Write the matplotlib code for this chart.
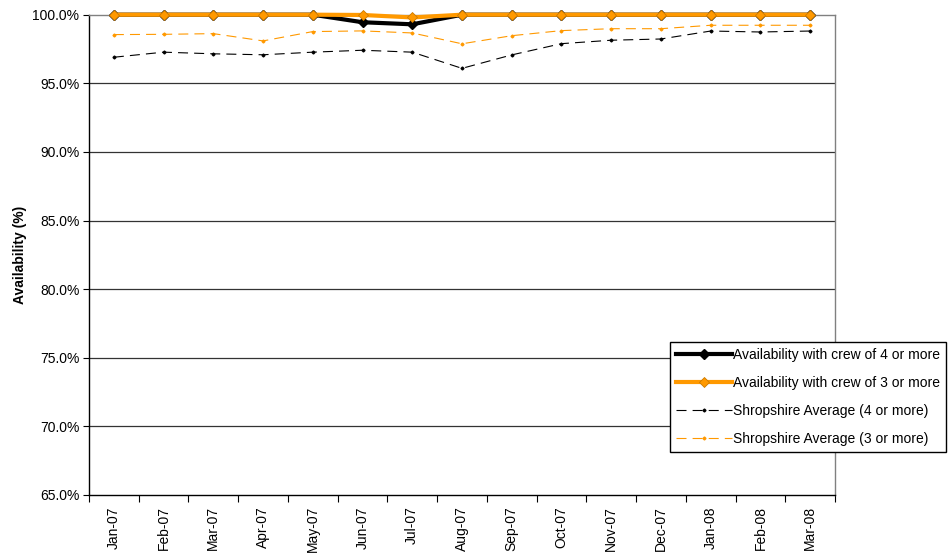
import matplotlib
matplotlib.use("Agg")
import matplotlib.pyplot as plt
from matplotlib.ticker import FixedLocator, FuncFormatter
import numpy as np

plt.rcParams['font.family'] = ['Liberation Sans', 'DejaVu Sans']

months = ["Jan-07", "Feb-07", "Mar-07", "Apr-07", "May-07", "Jun-07", "Jul-07", "Aug-07",
          "Sep-07", "Oct-07", "Nov-07", "Dec-07", "Jan-08", "Feb-08", "Mar-08"]
crew4 = [100.0, 100.0, 100.0, 100.0, 100.0, 99.45, 99.3, 100.0, 100.0, 100.0, 100.0, 100.0, 100.0, 100.0, 100.0]
crew3 = [100.0, 100.0, 100.0, 100.0, 100.0, 99.98, 99.8, 100.0, 100.0, 100.0, 100.0, 100.0, 100.0, 100.0, 100.0]
shrop4 = [96.9, 97.27, 97.15, 97.08, 97.27, 97.41, 97.27, 96.09, 97.07, 97.89, 98.14, 98.23, 98.81, 98.74, 98.81]
shrop3 = [98.55, 98.57, 98.62, 98.09, 98.77, 98.82, 98.67, 97.88, 98.47, 98.84, 98.98, 98.98, 99.23, 99.23, 99.23]
yticks = [65, 70, 75, 80, 85, 90, 95, 100]

ORANGE = '#FF9900'

fig = plt.figure(figsize=(9.48, 5.55), dpi=100)
ax = fig.add_axes([89/948, 1-495/555, (835-89)/948, (495-14.7)/555])

x = np.arange(len(months))
ax.plot(x, crew4, color='black', lw=3.0, marker='D', ms=5, mfc='black', mec='black',
        label='Availability with crew of 4 or more', clip_on=False, zorder=4)
ax.plot(x, crew3, color=ORANGE, lw=3.0, marker='D', ms=5, mfc=ORANGE, mec='#CC7A00', mew=0.6,
        label='Availability with crew of 3 or more', clip_on=False, zorder=5)
ax.plot(x, shrop4, color='black', lw=0.8, ls=(0, (9, 5.5)), marker='D', ms=1.5,
        label='Shropshire Average (4 or more)', zorder=3)
ax.plot(x, shrop3, color=ORANGE, lw=0.8, ls=(0, (9, 5.5)), marker='D', ms=1.5,
        label='Shropshire Average (3 or more)', zorder=3)

ax.set_xlim(-0.5, len(months) - 0.5)
ax.set_ylim(65, 100)
ax.set_yticks(yticks)
ax.yaxis.set_major_formatter(FuncFormatter(lambda v, p: f"{v:.1f}%"))
for yv in yticks[1:-1]:
    ax.axhline(yv, color='#333333', lw=0.9, zorder=1)

ax.set_xticks(x)
ax.set_xticklabels(months, rotation=90)
ax.xaxis.set_minor_locator(FixedLocator(np.arange(-0.5, len(months), 1.0)))
ax.tick_params(axis='x', which='major', length=0, pad=8, labelsize=10)
ax.tick_params(axis='x', which='minor', length=5, direction='out', color='black', width=0.8)
ax.tick_params(axis='y', length=4, direction='out', width=0.8, labelsize=10, pad=3)

ax.spines['left'].set_color('black')
ax.spines['bottom'].set_color('black')
ax.spines['top'].set_color('#808080')
ax.spines['right'].set_color('#808080')
for s in ax.spines.values():
    s.set_linewidth(1.0)

ax.set_ylabel('Availability (%)', fontsize=10, fontweight='bold', labelpad=4)

leg = fig.legend(loc='upper left', bbox_to_anchor=(670/948, 1-341.7/555), fontsize=10,
                 frameon=True, fancybox=False, edgecolor='black', framealpha=1,
                 handlelength=4.0, handletextpad=0.1, labelspacing=1.0, borderpad=0.45,
                 borderaxespad=0)
leg.get_frame().set_linewidth(1.0)

fig.savefig('out.png', dpi=100)
